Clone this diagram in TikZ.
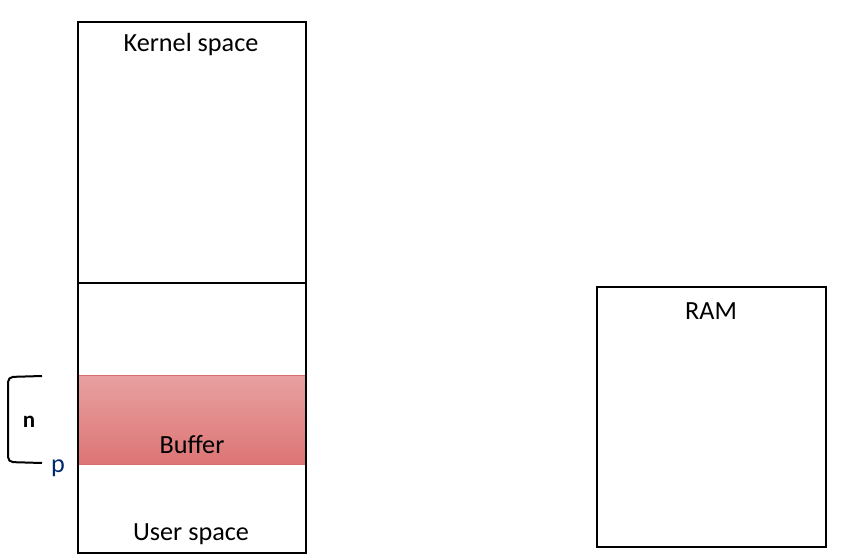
\documentclass[tikz,border=0pt]{standalone}
\usepackage{fontspec}
\setmainfont{Carlito}
\definecolor{pblue}{RGB}{0,40,110}
\definecolor{buftop}{RGB}{232,160,160}
\definecolor{bufbot}{RGB}{221,117,117}
\definecolor{bufedge}{RGB}{215,110,110}
\begin{document}
\begin{tikzpicture}[x=1pt,y=-1pt,
  box/.style={draw=black,line width=1.1pt,inner sep=0pt},
  lbl/.style={font=\fontsize{26.2}{30}\selectfont,inner sep=0pt}]
\useasboundingbox (0,0) rectangle (842,559);
\node[box,minimum width=228pt,minimum height=261pt] (kernel) at (192,152.5) {};
\node[box,minimum width=228pt,minimum height=270pt] (user) at (192,418) {};
\shade[top color=buftop,bottom color=bufbot,draw=bufedge,line width=0.8pt] (78.5,375.5) rectangle (305.5,464) node[pos=0.5,inner sep=0pt] (buffer) {};
\draw[line width=1.1pt] (78,22) rectangle (306,553);
\draw[line width=1.1pt] (78,283) -- (306,283);
\node[box,minimum width=229pt,minimum height=260pt] (ram) at (711.5,417) {};
\node[lbl] (kt) at (191,45) {Kernel space};
\node[lbl] (ut) at (191,534) {User space};
\node[lbl] (bt) at (192,445) {Buffer};
\node[lbl] (rt) at (711,311) {RAM};
\node[lbl,font=\fontsize{23}{26}\selectfont\bfseries] (n) at (29,422) {n};
\node[lbl,text=pblue] (p) at (58,468) {p};
\coordinate (bt1) at (42,376);
\coordinate (bb1) at (42,463);
\draw[line width=2pt,rounded corners=5pt] (bt1) -- (8,377) -- (8,462) -- (bb1);
\end{tikzpicture}
\end{document}
